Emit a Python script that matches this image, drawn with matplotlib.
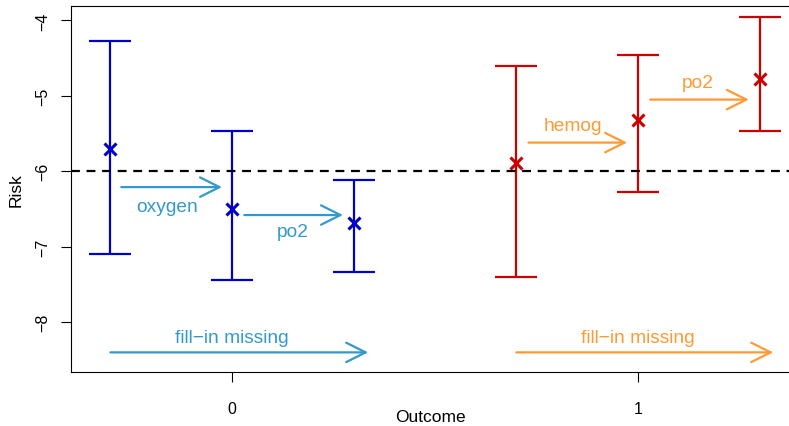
import matplotlib.pyplot as plt
import numpy as np
plt.rcParams['font.family'] = ['Liberation Sans', 'DejaVu Sans']

# estimates per outcome group
x_blue = [-0.3, 0.0, 0.3]
y_blue = [-5.70, -6.50, -6.69]
lo_blue = [-7.10, -7.44, -7.34]
hi_blue = [-4.28, -5.47, -6.11]

x_red = [0.7, 1.0, 1.3]
y_red = [-5.89, -5.32, -4.78]
lo_red = [-7.40, -6.28, -5.46]
hi_red = [-4.61, -4.46, -3.96]

# arrows: (x_start, x_end, y, label, label_x, label_y)
arrows_blue = [
    (-0.273, -0.025, -6.21, "oxygen", -0.16, -6.47),
    (0.03, 0.273, -6.58, "po2", 0.15, -6.80),
    (-0.30, 0.335, -8.40, "fill\u2212in missing", 0.0, -8.20),
]
arrows_red = [
    (0.73, 0.973, -5.62, "hemog", 0.84, -5.40),
    (1.03, 1.273, -5.05, "po2", 1.148, -4.83),
    (0.70, 1.333, -8.40, "fill\u2212in missing", 1.0, -8.20),
]

fig = plt.figure(figsize=(7.89, 4.27), dpi=100)
ax = fig.add_axes([71 / 789, 54 / 427, 1 - 71 / 789, 366 / 427])

def draw(xs, ys, lo, hi, col):
    ys = np.array(ys)
    err = [ys - np.array(lo), np.array(hi) - ys]
    ax.errorbar(xs, ys, yerr=err, fmt='none', ecolor=col, elinewidth=1.6,
                capsize=15, capthick=1.6)
    ax.plot(xs, ys, 'x', color=col, markersize=9, markeredgewidth=2.2)

draw(x_blue, y_blue, lo_blue, hi_blue, '#0000CD')
draw(x_red, y_red, lo_red, hi_red, '#CD0000')

ax.axhline(-6, color='black', lw=1.6, ls=(0, (4, 3)))

def draw_arrows(arrs, col):
    for x0, x1, y, lab, lx, ly in arrs:
        ax.annotate('', xy=(x1, y), xytext=(x0, y),
                    arrowprops=dict(arrowstyle='->,head_length=1.0,head_width=0.5',
                                    color=col, lw=1.6, mutation_scale=14,
                                    shrinkA=0, shrinkB=0))
        ax.text(lx, ly, lab, color=col, fontsize=13.8, ha='center', va='center')

draw_arrows(arrows_blue, '#3399CC')
draw_arrows(arrows_red, '#FF9933')

ax.set_xlim(-0.397, 1.372)
ax.set_ylim(-8.66, -3.81)
ax.set_xticks([0, 1])
ax.set_yticks([-8, -7, -6, -5, -4])
ax.tick_params(axis='both', length=7, labelsize=11.5)
ax.tick_params(axis='x', pad=14)
ax.tick_params(axis='y', pad=8)
for t in ax.get_yticklabels():
    t.set_rotation(90)
    t.set_va('center')
ax.spines['right'].set_visible(False)
ax.set_xlabel("Outcome", fontsize=12.5, va='center')
ax.xaxis.set_label_coords(0.5, (373 - 418) / 366)
ax.set_ylabel("Risk", fontsize=12.5, labelpad=8)

plt.savefig('out.png', dpi=100)
